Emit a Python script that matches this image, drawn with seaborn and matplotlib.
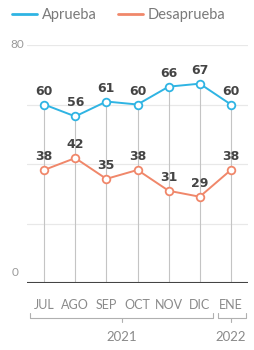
import matplotlib
matplotlib.use("Agg")
import matplotlib.pyplot as plt
import matplotlib.transforms as mtransforms
from matplotlib.lines import Line2D
import pandas as pd
import seaborn as sns

# data
meses = ["JUL", "AGO", "SEP", "OCT", "NOV", "DIC", "ENE"]
aprueba = [60, 56, 61, 60, 66, 67, 60]
desaprueba = [38, 42, 35, 38, 31, 29, 38]
anios = ["2021", "2022"]

azul = "#2fb4e3"
naranja = "#f0876a"
gris_txt = "#8a8a8a"

sns.set_style("white")
plt.rcParams["font.family"] = ["Lato", "DejaVu Sans"]

df = pd.DataFrame({"idx": list(range(len(meses))), "mes": meses,
                   "Aprueba": aprueba, "Desaprueba": desaprueba})

fig = plt.figure(figsize=(2.55, 3.5), dpi=100)
ax = fig.add_axes([27 / 255, 1 - 283 / 350, 221 / 255, 238 / 350])

# gridlines
for g in [20, 40, 60, 80]:
    ax.axhline(g, color="#e8e8e8", lw=0.9, zorder=0)

# vertical guide lines from base to the top series
ax.vlines(df["idx"], 0, df["Aprueba"], color="#c4c4c4", lw=0.8, zorder=1)

for col, c in [("Aprueba", azul), ("Desaprueba", naranja)]:
    sns.lineplot(data=df, x="idx", y=col, ax=ax, color=c, lw=1.4,
                 marker="o", markersize=5.5, markerfacecolor="white",
                 markeredgecolor=c, markeredgewidth=1.3, zorder=3)
    for i, v in zip(df["idx"], df[col]):
        ax.annotate(str(v), (i, v), xytext=(0, 5), textcoords="offset points",
                    ha="center", va="bottom", fontsize=9, fontweight="bold",
                    color="#444444", family=["DejaVu Sans"])

ax.axhline(0, color="#444444", lw=1.5, zorder=4)

ax.set_xlim(-0.55, 6.55)
ax.set_ylim(0, 80)
ax.set_xlabel("")
ax.set_ylabel("")
ax.set_xticks([])
ax.set_yticks([])
for s in ax.spines.values():
    s.set_visible(False)

# y labels
ax.text(-0.077, 80 / 80, "80", transform=ax.transAxes, ha="left", va="center",
        fontsize=8.5, color="#9a9a9a", clip_on=False)
ax.text(-0.068, 0.02, "0", transform=ax.transAxes, ha="left", va="bottom",
        fontsize=8.5, color="#9a9a9a", clip_on=False)

# month labels and year brackets
tr = mtransforms.blended_transform_factory(ax.transData, ax.transAxes)
for i, m in enumerate(meses):
    ax.text(i, -0.092, m, transform=tr, ha="center", va="center",
            fontsize=9, color=gris_txt, clip_on=False)

brackets = [(-0.45, 5.42, 2.5, anios[0]), (5.58, 6.48, 6.0, anios[1])]
for x0, x1, xc, lab in brackets:
    yb, yt, yd = -0.147, -0.125, -0.165
    ax.plot([x0, x0, x1, x1], [yt, yb, yb, yt], transform=tr, color="#b0b0b0",
            lw=0.8, clip_on=False, solid_joinstyle="round")
    ax.plot([xc, xc], [yb, yd], transform=tr, color="#b0b0b0", lw=0.8,
            clip_on=False)
    ax.text(xc, -0.227, lab, transform=tr, ha="center", va="center",
            fontsize=9.5, color=gris_txt, clip_on=False)

# legend
handles = [Line2D([], [], color=azul, lw=2), Line2D([], [], color=naranja, lw=2)]
fig.legend(handles, ["Aprueba", "Desaprueba"], loc="center left",
           bbox_to_anchor=(12 / 255, 1 - 15 / 350), ncol=2, frameon=False,
           fontsize=10.5, handlelength=1.7, handletextpad=0.35,
           columnspacing=1.45, borderpad=0, borderaxespad=0,
           labelcolor="#7a7a7a")

fig.savefig("out.png", dpi=100)
